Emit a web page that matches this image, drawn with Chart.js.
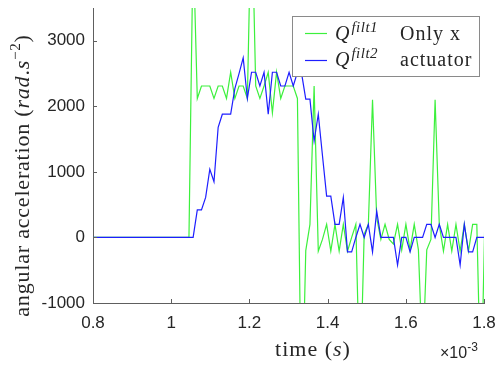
<!DOCTYPE html>
<html>
<head>
<meta charset="utf-8">
<script src="https://cdn.jsdelivr.net/npm/chart.js@4.4.1/dist/chart.umd.min.js"></script>
<style>
  body { margin: 0; background: #fff; }
</style>
</head>
<body>
<canvas id="myChart" width="495" height="365"></canvas>
<script>
// sample grid (time in 1e-3 s)
var t0 = 0.8;
var dt = 0.01067;

// Q^filt1 (green)
var qFilt1 = [
    0, 0, 0, 0, 0, 0, 0, 0, 0, 0, 0, 0, 0, 0, 0, 0, 0, 0, 0, 0, 0, 0, 0, 0,
    4500, 2120, 2310, 2310, 2310, 2120, 2310, 2310, 2120, 2520, 2120, 2310,
    2310, 2120, 5200, 2310, 2120, 2310, 2520, 1900, 2520, 2120, 2310, 2310,
    2310, 2120, -3000, -200, 200, 2310, -210, -30, 200, -210, 200, -210,
    200, -210, 0, 200, -2400, 50, 200, 2100, 300, -30, 200, -30,
    -100, 200, -190, 200, -190, 200, -190, -1900, -190, -30, 2100, 200,
    -210, 200, -210, 200, -210, 200, -210, 200, 200, -2500, 500
];

// Q^filt2 (blue)
var qFilt2 = [
    0, 0, 0, 0, 0, 0, 0, 0, 0, 0, 0, 0, 0, 0, 0, 0, 0, 0, 0, 0, 0, 0, 0, 0,
    0, 420, 420, 610, 1040, 850, 1680, 1880, 1880, 1880, 2270, 2500,
    2740, 2120, 2520, 2520, 2310, 2520, 1880, 2520, 2520, 2310, 2310, 2520,
    2310, 2520, 2500, 2110, 2110, 1470, 1880, 1250, 630, 630, 200, 200,
    610, -220, -220, 0, 200, 0, 200, -220, 400, 0, 0, 0,
    0, -420, 0, 0, -220, 0, 0, 0, 200, 200, 0, 200,
    0, 0, 0, 0, -420, 200, -220, -220, 0, 0, 0
];

var xTicks = [0.8, 1, 1.2, 1.4, 1.6, 1.8];
var yTicks = [-1000, 0, 1000, 2000, 3000];

var times = [];
for (var i = 0; i < qFilt1.length; i++) {
    times.push(t0 + i * dt);
}

function toPoints(values) {
    return values.map(function (v, i) { return { x: times[i], y: v }; });
}

var serif = '"Liberation Serif", "Times New Roman", serif';
var sans = '"Liberation Sans", Arial, sans-serif';
var axisColor = '#5e5e5e';

function drawRuns(ctx, runs, x, y, center) {
    var total = 0;
    runs.forEach(function (r) {
        ctx.font = r.font;
        r.w = ctx.measureText(r.text).width;
        total += r.w;
    });
    var cx = center ? x - total / 2 : x;
    runs.forEach(function (r) {
        ctx.font = r.font;
        ctx.fillText(r.text, cx, y - (r.dy || 0));
        cx += r.w;
    });
}

var decorations = {
    id: 'decorations',
    afterDatasetsDraw: function (chart) {
        var ctx = chart.ctx;
        var a = chart.chartArea;
        var xs = chart.scales.x;
        var ys = chart.scales.y;
        ctx.save();

        // inward ticks
        ctx.strokeStyle = axisColor;
        ctx.lineWidth = 1;
        ctx.beginPath();
        yTicks.forEach(function (v) {
            var y = Math.round(ys.getPixelForValue(v)) + 0.5;
            ctx.moveTo(a.left, y);
            ctx.lineTo(a.left + 4, y);
        });
        xTicks.forEach(function (v) {
            var x = Math.round(xs.getPixelForValue(v)) + 0.5;
            ctx.moveTo(x, a.bottom);
            ctx.lineTo(x, a.bottom - 4);
        });
        ctx.stroke();

        ctx.fillStyle = '#262626';
        ctx.textBaseline = 'alphabetic';
        ctx.textAlign = 'left';

        // exponent
        drawRuns(ctx, [
            { text: '\u00d710', font: '16px ' + sans },
            { text: '-3', font: '12px ' + sans, dy: 7 }
        ], 440, 358, false);

        ctx.letterSpacing = '1px';
        // x title
        drawRuns(ctx, [
            { text: 'time (', font: '22px ' + serif },
            { text: 's', font: 'italic 22px ' + serif },
            { text: ')', font: '22px ' + serif }
        ], 313, 356, true);

        // y title
        ctx.letterSpacing = '0.8px';
        ctx.save();
        ctx.translate(29, 175.5);
        ctx.rotate(-Math.PI / 2);
        drawRuns(ctx, [
            { text: 'angular acceleration (', font: '22px ' + serif },
            { text: 'rad', font: 'italic 22px ' + serif },
            { text: '.', font: '22px ' + serif },
            { text: 's', font: 'italic 22px ' + serif },
            { text: '\u22122', font: '15px ' + serif, dy: 9 },
            { text: ')', font: '22px ' + serif }
        ], 0, 0, true);
        ctx.restore();

        // legend
        ctx.letterSpacing = '0px';
        ctx.fillStyle = '#fff';
        ctx.fillRect(292.5, 16.5, 187, 60);
        ctx.strokeStyle = '#8a8a8a';
        ctx.strokeRect(292.5, 16.5, 187, 60);
        var rows = [
            { ds: chart.data.datasets[0], sup: 'filt1', text: 'Only x', y: 33.5, base: 40 },
            { ds: chart.data.datasets[1], sup: 'filt2', text: 'actuator', y: 60.5, base: 66 }
        ];
        rows.forEach(function (r) {
            ctx.strokeStyle = r.ds.borderColor;
            ctx.lineWidth = 1.2;
            ctx.beginPath();
            ctx.moveTo(305, r.y);
            ctx.lineTo(327, r.y);
            ctx.stroke();
            ctx.fillStyle = '#262626';
            ctx.letterSpacing = '0.5px';
            drawRuns(ctx, [
                { text: 'Q', font: 'italic 20px ' + serif },
                { text: ' ', font: '4px ' + serif },
                { text: r.sup, font: 'italic 15px ' + serif, dy: 8 }
            ], 335, r.base, false);
            ctx.letterSpacing = '1px';
            ctx.font = '20px ' + serif;
            ctx.fillText(r.text, 400, r.base);
        });

        ctx.restore();
    }
};

window.onload = function () {
    drawChart();
}

function drawChart() {
    var ctx = document.getElementById('myChart').getContext('2d');
    var myChart = new Chart(ctx, {
        type: 'line',
        data: {
            datasets: [{
                label: 'Q filt1 Only x',
                data: toPoints(qFilt1),
                borderColor: 'rgb(60, 240, 60)',
                borderWidth: 1.2,
                pointRadius: 0,
                tension: 0,
                order: 2
            }, {
                label: 'Q filt2 actuator',
                data: toPoints(qFilt2),
                borderColor: 'rgb(30, 30, 255)',
                borderWidth: 1.2,
                pointRadius: 0,
                tension: 0,
                order: 1
            }]
        },
        options: {
            responsive: false,
            animation: false,
            layout: { padding: { top: 8, right: 11, left: 0, bottom: 0 } },
            plugins: {
                legend: { display: false },
                tooltip: { enabled: false }
            },
            scales: {
                x: {
                    type: 'linear',
                    min: 0.8,
                    max: 1.8,
                    grid: { display: false, drawTicks: false },
                    border: { display: true, color: axisColor, width: 1 },
                    afterBuildTicks: function (s) {
                        s.ticks = xTicks.map(function (v) { return { value: v }; });
                    },
                    afterFit: function (s) {
                        s.height = 62;
                        s.paddingLeft = 0;
                        s.paddingRight = 0;
                    },
                    ticks: {
                        autoSkip: false,
                        maxRotation: 0,
                        padding: 10,
                        color: '#262626',
                        font: { family: 'Liberation Sans', size: 17 },
                        callback: function (v) { return String(v); }
                    }
                },
                y: {
                    min: -1000,
                    max: 3500,
                    grid: { display: false, drawTicks: false },
                    border: { display: true, color: axisColor, width: 1 },
                    afterBuildTicks: function (s) {
                        s.ticks = yTicks.map(function (v) { return { value: v }; });
                    },
                    afterFit: function (s) {
                        s.width = 93;
                        s.paddingTop = 0;
                        s.paddingBottom = 0;
                    },
                    ticks: {
                        padding: 8,
                        color: '#262626',
                        font: { family: 'Liberation Sans', size: 17 },
                        callback: function (v) { return String(v); }
                    }
                }
            }
        },
        plugins: [decorations]
    });
}
</script>
</body>
</html>
